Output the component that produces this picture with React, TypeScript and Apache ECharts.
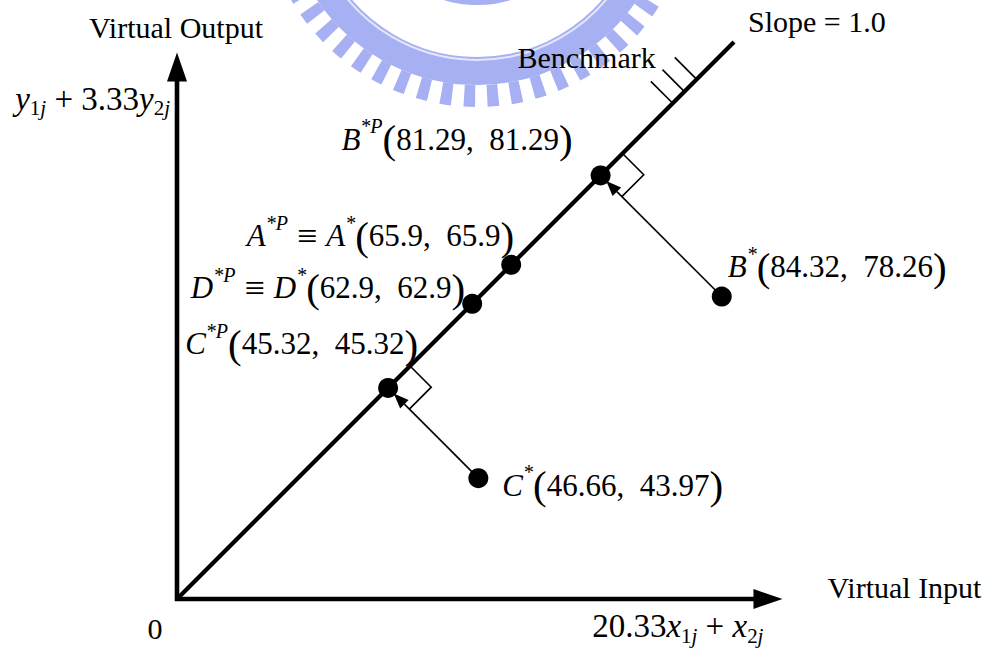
import React, { useEffect, useRef } from 'react';
import * as echarts from 'echarts';

// ---- Data (values written on the figure) ----
const pointIds = ['A', 'B', 'C', 'D'];
const virtualInput = [65.9, 84.32, 46.66, 62.9];
const virtualOutput = [65.9, 78.26, 43.97, 62.9];
const projectedValue = [65.9, 81.29, 45.32, 62.9];
const onFrontier = [true, false, false, true];
// Schematic positions of the points in the drawing (the figure is not to scale)
const drawX = [60, 97.8, 54.1, 53];
const drawY = [60, 54.3, 21.7, 53];
// Benchmark line y = x (slope 1.0) and axis extents, in drawing units
const slopeLine = [[0, 0], [100, 100]];
const axisEnds = [108.7, 98.1];
const benchmarkTicks = [89, 91.1, 93.3];

const FONT = '"Liberation Serif", "Times New Roman", serif';

const mk = (o: any) => ({ fontFamily: FONT, fill: '#000', ...o });
const makeRich = (M: number, S: number, P: number, LH: number) => ({
  it: mk({ fontSize: M, fontStyle: 'italic', verticalAlign: 'middle', lineHeight: LH }),
  n: mk({ fontSize: M, verticalAlign: 'middle', lineHeight: LH }),
  eq: mk({ fontSize: M + 5, verticalAlign: 'middle', lineHeight: LH }),
  par: mk({ fontSize: P, verticalAlign: 'middle', lineHeight: LH }),
  sup: mk({ fontSize: S, fontStyle: 'italic', verticalAlign: 'top', lineHeight: S }),
  sub: mk({ fontSize: S, verticalAlign: 'bottom', lineHeight: 14 }),
  subi: mk({ fontSize: S, fontStyle: 'italic', verticalAlign: 'bottom', lineHeight: 14 }),
});
const richPts: any = makeRich(31, 20, 41, 46);
const richAxis: any = makeRich(33, 21, 41, 40);

const fmt = (v: number) => String(v);

export default function App() {
  const ref = useRef<HTMLDivElement>(null);
  useEffect(() => {
    const el = ref.current!;
    const chart = echarts.init(el, null, { renderer: 'svg' });

    const feet = drawX.map((x, i) => (x + drawY[i]) / 2);
    const scatterData: number[][] = [];
    drawX.forEach((x, i) => {
      scatterData.push([x, drawY[i]]);
      if (!onFrontier[i]) scatterData.push([feet[i], feet[i]]);
    });
    const offData = drawX
      .map((x, i) => [x, drawY[i], i])
      .filter((d) => !onFrontier[d[2]]);

    const norm = (a: number[], b: number[]) => {
      const dx = b[0] - a[0];
      const dy = b[1] - a[1];
      const l = Math.hypot(dx, dy);
      return [dx / l, dy / l];
    };

    const option: any = {
      animation: false,
      backgroundColor: '#fff',
      grid: { left: 177, top: 42, width: 110 * 5.57, height: 100 * 5.57, containLabel: false },
      xAxis: { type: 'value', min: 0, max: 110, show: false },
      yAxis: { type: 'value', min: 0, max: 100, show: false },
      series: [
        {
          type: 'line',
          name: 'Slope = 1.0',
          data: slopeLine,
          symbol: 'none',
          clip: false,
          lineStyle: { color: '#000', width: 4.2 },
          z: 3,
        },
        {
          type: 'custom',
          name: 'axes',
          coordinateSystem: 'cartesian2d',
          clip: false,
          data: [[axisEnds[0], 0], [0, axisEnds[1]]],
          renderItem: (params: any, api: any) => {
            const s = api.coord([0, 0]);
            const e = api.coord([api.value(0), api.value(1)]);
            const d = norm(s, e);
            const nrm = [-d[1], d[0]];
            const L = 29, W = 10;
            const b = [e[0] - d[0] * L, e[1] - d[1] * L];
            return {
              type: 'group',
              children: [
                { type: 'line', shape: { x1: s[0] - d[0] * 2, y1: s[1] - d[1] * 2, x2: b[0] + d[0] * 2, y2: b[1] + d[1] * 2 }, style: { stroke: '#000', lineWidth: 4.6 } },
                { type: 'polygon', shape: { points: [e, [b[0] + nrm[0] * W, b[1] + nrm[1] * W], [b[0] - nrm[0] * W, b[1] - nrm[1] * W]] }, style: { fill: '#000' } },
              ],
            };
          },
          z: 4,
        },
        {
          type: 'custom',
          name: 'projections',
          coordinateSystem: 'cartesian2d',
          clip: false,
          data: offData,
          renderItem: (params: any, api: any) => {
            const x = api.value(0), y = api.value(1);
            const p = api.coord([x, y]);
            const f = api.coord([(x + y) / 2, (x + y) / 2]);
            const d = norm(p, f);
            const nrm = [-d[1], d[0]];
            const tip = [f[0] - d[0] * 8, f[1] - d[1] * 8];
            const base = [tip[0] - d[0] * 15, tip[1] - d[1] * 15];
            const o = api.coord([0, 0]);
            const one = api.coord([1, 1]);
            const u = norm(o, one);
            const v = [-d[0], -d[1]];
            const a = 31, c = 30;
            const q1 = [f[0] + u[0] * a, f[1] + u[1] * a];
            const q2 = [q1[0] + v[0] * c, q1[1] + v[1] * c];
            const q3 = [f[0] + v[0] * c, f[1] + v[1] * c];
            return {
              type: 'group',
              children: [
                { type: 'line', shape: { x1: p[0], y1: p[1], x2: base[0], y2: base[1] }, style: { stroke: '#000', lineWidth: 1.6 } },
                { type: 'polygon', shape: { points: [tip, [base[0] + nrm[0] * 6, base[1] + nrm[1] * 6], [base[0] - nrm[0] * 6, base[1] - nrm[1] * 6]] }, style: { fill: '#000' } },
                { type: 'polyline', shape: { points: [q1, q2, q3] }, style: { stroke: '#000', lineWidth: 1.6, fill: 'none' } },
              ],
            };
          },
          z: 2,
        },
        {
          type: 'custom',
          name: 'Benchmark',
          coordinateSystem: 'cartesian2d',
          clip: false,
          data: benchmarkTicks.map((t) => [t, t]),
          renderItem: (params: any, api: any) => {
            const b = api.coord([api.value(0), api.value(1)]);
            const o = api.coord([0, 0]);
            const one = api.coord([1, 1]);
            const u = norm(o, one);
            const n = [-u[1], u[0]];
            const nn = n[1] < 0 ? n : [-n[0], -n[1]];
            const L = 31;
            return { type: 'line', shape: { x1: b[0], y1: b[1], x2: b[0] + nn[0] * L, y2: b[1] + nn[1] * L }, style: { stroke: '#000', lineWidth: 1.6 } };
          },
          z: 2,
        },
        {
          type: 'scatter',
          name: 'DMUs',
          data: scatterData,
          symbol: 'circle',
          symbolSize: 20,
          itemStyle: { color: '#000', opacity: 1 },
          clip: false,
          z: 5,
        },
      ],
    };
    chart.setOption(option);

    const px = (x: number, y: number) => chart.convertToPixel({ gridIndex: 0 }, [x, y]) as number[];
    const g: any[] = [];
    // watermark (faint emblem)
    const wc = [477, -108];
    const wcol = '#a6b0f2';
    g.push({ type: 'arc', z: -1, silent: true, shape: { cx: wc[0], cy: wc[1], r: 204, startAngle: 0, endAngle: Math.PI * 2 }, style: { stroke: wcol, lineWidth: 22, lineDash: [11, 12], fill: 'none' } });
    g.push({ type: 'arc', z: -1, silent: true, shape: { cx: wc[0], cy: wc[1], r: 179, startAngle: 0, endAngle: Math.PI * 2 }, style: { stroke: wcol, lineWidth: 28, fill: 'none' } });
    g.push({ type: 'arc', z: -1, silent: true, shape: { cx: wc[0], cy: wc[1], r: 168, startAngle: 0, endAngle: Math.PI * 2 }, style: { stroke: '#e4e7fa', lineWidth: 2, fill: 'none' } });
    g.push({ type: 'arc', z: -1, silent: true, shape: { cx: wc[0], cy: wc[1], r: 108, startAngle: 0, endAngle: Math.PI * 2 }, style: { stroke: wcol, lineWidth: 10, fill: 'none' } });

    const txt = (x: number, y: number, text: string, align: string, rich: any = richPts, extra: any = {}) => ({
      type: 'text',
      z: 10,
      x,
      y,
      style: { text, fill: '#000', fontFamily: FONT, fontSize: 30, align, verticalAlign: 'middle', rich, ...extra },
    });

    const o = px(0, 0);
    const xe = px(axisEnds[0], 0);
    const ye = px(0, axisEnds[1]);
    const se = px(slopeLine[1][0], slopeLine[1][1]);
    const bt = px(benchmarkTicks[0], benchmarkTicks[0]);

    g.push(txt(ye[0] - 1, ye[1] - 25, 'Virtual Output', 'center'));
    g.push(txt(ye[0] - 7, ye[1] + 46, '{it|y}{sub|1}{subi|j}{n| + 3.33}{it|y}{sub|2}{subi|j}', 'right', richAxis));
    g.push(txt(xe[0] + 45, xe[1] - 12, 'Virtual Input', 'left'));
    g.push(txt(xe[0] - 19, xe[1] + 27, '{n|20.33}{it|x}{sub|1}{subi|j}{n| + }{it|x}{sub|2}{subi|j}', 'right', richAxis));
    g.push(txt(o[0] - 22, o[1] + 29, '0', 'center'));
    g.push(txt(se[0] + 14, se[1] - 21, 'Slope = 1.0', 'left'));
    g.push(txt(bt[0] - 17, bt[1] - 46, 'Benchmark', 'right'));

    const sp = ',\u2002';
    pointIds.forEach((id, i) => {
      const p = px(drawX[i], drawY[i]);
      if (onFrontier[i]) {
        const t = `{it|${id}}{sup|*P}{eq| \u2261 }{it|${id}}{sup|*}{par|(}{n|${fmt(virtualInput[i])}${sp}${fmt(virtualOutput[i])}}{par|)}`;
        const dy = id === 'A' ? -29 : -16;
        const dx = id === 'A' ? 3 : -7;
        g.push(txt(p[0] + dx, p[1] + dy, t, 'right'));
      } else {
        const t = `{it|${id}}{sup|*}{par|(}{n|${fmt(virtualInput[i])}${sp}${fmt(virtualOutput[i])}}{par|)}`;
        const dx = id === 'B' ? 6 : 24;
        const dy = id === 'B' ? -30 : 7;
        g.push(txt(p[0] + dx, p[1] + dy, t, 'left'));
        const f = (drawX[i] + drawY[i]) / 2;
        const pf = px(f, f);
        const tp = `{it|${id}}{sup|*P}{par|(}{n|${fmt(projectedValue[i])}${sp}${fmt(projectedValue[i])}}{par|)}`;
        const dxp = id === 'B' ? -28 : 30;
        const dyp = id === 'B' ? -36 : -44;
        g.push(txt(pf[0] + dxp, pf[1] + dyp, tp, 'right'));
      }
    });

    chart.setOption({ graphic: g });
    return () => chart.dispose();
  }, []);
  return (
    <div
      ref={ref}
      style={{ position: 'absolute', left: 0, top: 0, width: 995, height: 650, background: '#fff' }}
    />
  );
}
